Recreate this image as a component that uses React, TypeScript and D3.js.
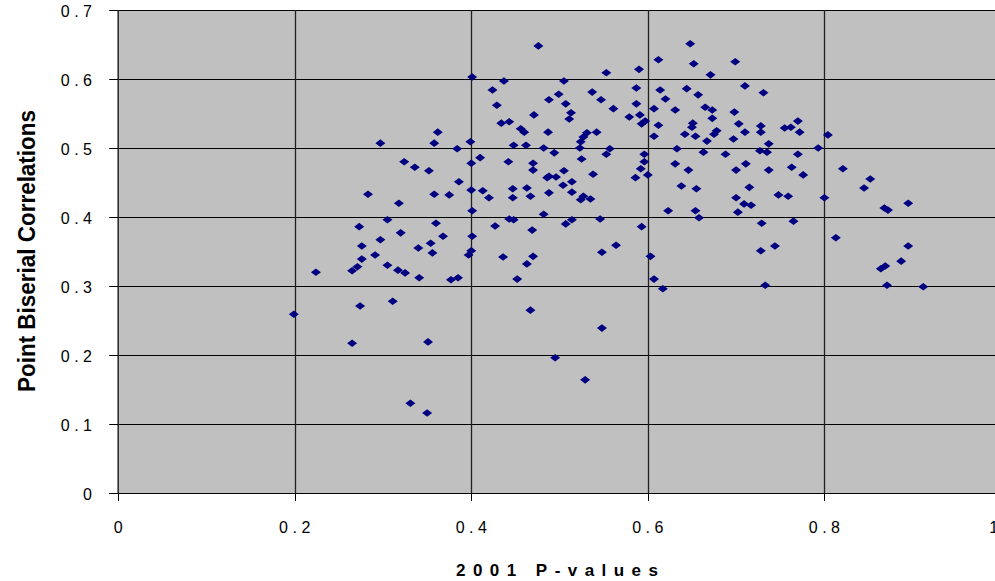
import React from "react";
import * as d3 from "d3";

const pValues = [
  0.297, 0.362, 0.358, 0.324, 0.336, 0.352, 0.476, 0.401, 0.437, 0.505,
  0.424, 0.499, 0.537, 0.553, 0.429, 0.488, 0.507, 0.547, 0.471, 0.513,
  0.511, 0.434, 0.443, 0.456, 0.460, 0.487, 0.399, 0.384, 0.448, 0.462,
  0.482, 0.494, 0.523, 0.524, 0.527, 0.531, 0.542, 0.525, 0.400, 0.410,
  0.442, 0.470, 0.470, 0.505, 0.538, 0.553, 0.648, 0.612, 0.590, 0.652,
  0.699, 0.671, 0.587, 0.614, 0.644, 0.657, 0.710, 0.731, 0.620, 0.587,
  0.561, 0.607, 0.631, 0.665, 0.673, 0.698, 0.579, 0.591, 0.673, 0.597,
  0.593, 0.612, 0.651, 0.650, 0.642, 0.654, 0.678, 0.675, 0.703, 0.710,
  0.728, 0.728, 0.607, 0.667, 0.697, 0.633, 0.557, 0.596, 0.663, 0.688,
  0.727, 0.596, 0.631, 0.711, 0.592, 0.646, 0.700, 0.600, 0.770, 0.755,
  0.762, 0.772, 0.804, 0.737, 0.793, 0.735, 0.770, 0.737, 0.763, 0.821,
  0.776, 0.283, 0.358, 0.318, 0.305, 0.360, 0.273, 0.320, 0.297, 0.368,
  0.276, 0.340, 0.354, 0.356, 0.291, 0.276, 0.305, 0.271, 0.265, 0.224,
  0.317, 0.325, 0.341, 0.311, 0.274, 0.488, 0.486, 0.496, 0.386, 0.400,
  0.375, 0.413, 0.420, 0.447, 0.463, 0.447, 0.467, 0.488, 0.504, 0.514,
  0.514, 0.527, 0.524, 0.535, 0.401, 0.448, 0.443, 0.482, 0.514, 0.507,
  0.546, 0.427, 0.469, 0.401, 0.400, 0.397, 0.436, 0.470, 0.463, 0.548,
  0.377, 0.385, 0.452, 0.586, 0.638, 0.655, 0.700, 0.709, 0.717, 0.715,
  0.623, 0.654, 0.658, 0.702, 0.593, 0.729, 0.564, 0.603, 0.728, 0.607,
  0.617, 0.733, 0.852, 0.845, 0.748, 0.759, 0.800, 0.868, 0.872, 0.895,
  0.765, 0.813, 0.744, 0.895, 0.887, 0.869, 0.864, 0.871, 0.912, 0.199,
  0.265, 0.351, 0.331, 0.350, 0.467, 0.548, 0.495, 0.529,
];

const correlations = [
  0.507, 0.523, 0.507, 0.480, 0.472, 0.467, 0.648, 0.603, 0.597, 0.597,
  0.584, 0.578, 0.581, 0.609, 0.562, 0.570, 0.564, 0.570, 0.548, 0.551,
  0.542, 0.536, 0.538, 0.528, 0.523, 0.523, 0.509, 0.499, 0.504, 0.504,
  0.500, 0.493, 0.500, 0.509, 0.516, 0.522, 0.523, 0.484, 0.478, 0.486,
  0.480, 0.478, 0.468, 0.467, 0.462, 0.491, 0.651, 0.628, 0.614, 0.622,
  0.625, 0.606, 0.587, 0.584, 0.586, 0.577, 0.590, 0.580, 0.571, 0.564,
  0.557, 0.557, 0.555, 0.559, 0.555, 0.552, 0.545, 0.548, 0.543, 0.539,
  0.535, 0.533, 0.536, 0.530, 0.520, 0.517, 0.525, 0.520, 0.535, 0.523,
  0.532, 0.523, 0.517, 0.510, 0.513, 0.499, 0.499, 0.491, 0.494, 0.491,
  0.496, 0.480, 0.477, 0.477, 0.470, 0.468, 0.468, 0.461, 0.539, 0.529,
  0.530, 0.523, 0.519, 0.506, 0.500, 0.494, 0.491, 0.468, 0.472, 0.470,
  0.461, 0.433, 0.433, 0.420, 0.396, 0.391, 0.386, 0.377, 0.367, 0.372,
  0.358, 0.355, 0.362, 0.348, 0.345, 0.339, 0.330, 0.328, 0.322, 0.320,
  0.323, 0.319, 0.312, 0.278, 0.271, 0.459, 0.457, 0.458, 0.451, 0.439,
  0.432, 0.438, 0.428, 0.441, 0.442, 0.428, 0.430, 0.435, 0.446, 0.451,
  0.436, 0.430, 0.425, 0.426, 0.409, 0.396, 0.397, 0.404, 0.396, 0.390,
  0.397, 0.387, 0.381, 0.372, 0.351, 0.345, 0.342, 0.343, 0.332, 0.349,
  0.309, 0.312, 0.310, 0.457, 0.445, 0.441, 0.428, 0.419, 0.417, 0.443,
  0.409, 0.409, 0.399, 0.407, 0.386, 0.391, 0.359, 0.343, 0.351, 0.310,
  0.296, 0.301, 0.455, 0.442, 0.432, 0.430, 0.428, 0.413, 0.410, 0.420,
  0.394, 0.370, 0.358, 0.358, 0.336, 0.329, 0.325, 0.301, 0.299, 0.259,
  0.217, 0.219, 0.130, 0.116, 0.265, 0.239, 0.196, 0.164,
];

const xTicks = [0, 0.2, 0.4, 0.6, 0.8, 1];
const xTickLabels = ["0", "0.2", "0.4", "0.6", "0.8", "1"];
const yTicks = [0, 0.1, 0.2, 0.3, 0.4, 0.5, 0.6, 0.7];
const yTickLabels = ["0", "0.1", "0.2", "0.3", "0.4", "0.5", "0.6", "0.7"];

const W = 995;
const H = 581;
const FONT = "'Liberation Sans', Arial, Helvetica, sans-serif";

export default function App() {
  const x = d3.scaleLinear().domain([0, 1]).range([118.2, 1000.9]);
  const y = d3.scaleLinear().domain([0, 0.7]).range([493, 10]);
  const points = pValues.map((p, i) => ({ p, c: correlations[i] }));
  const diamond = (cx: number, cy: number) =>
    `M${cx},${cy - 3.8}L${cx + 5},${cy}L${cx},${cy + 3.8}L${cx - 5},${cy}Z`;
  const left = x(0);
  const ls = 4.5;

  return (
    <svg
      width={W}
      height={H}
      style={{ position: "absolute", left: 0, top: 0, background: "#fff" }}
    >
      <rect x={left} y={y(0.7)} width={W - left} height={y(0) - y(0.7)} fill="#C0C0C0" />
      {yTicks.filter((t) => t > 0).map((t) => (
        <line key={"hg" + t} x1={left} x2={W} y1={Math.round(y(t)) + 0.5} y2={Math.round(y(t)) + 0.5} stroke="#000" strokeWidth={1} />
      ))}
      {xTicks.filter((t) => t > 0).map((t) => (
        <line key={"vg" + t} x1={Math.round(x(t)) + 0.5} x2={Math.round(x(t)) + 0.5} y1={y(0.7)} y2={y(0)} stroke="#202020" strokeWidth={1.3} />
      ))}
      <line x1={left} x2={left} y1={y(0.7)} y2={y(0)} stroke="#303030" strokeWidth={1.6} />
      <line x1={left - 9} x2={W} y1={Math.round(y(0)) + 0.5} y2={Math.round(y(0)) + 0.5} stroke="#000" strokeWidth={1.2} />
      {yTicks.map((t) => (
        <line key={"yt" + t} x1={left - 9} x2={left} y1={Math.round(y(t)) + 0.5} y2={Math.round(y(t)) + 0.5} stroke="#000" />
      ))}
      {xTicks.map((t) => (
        <line key={"xt" + t} x1={Math.round(x(t)) + 0.5} x2={Math.round(x(t)) + 0.5} y1={y(0)} y2={y(0) + 8} stroke="#000" />
      ))}
      {yTicks.map((t, i) => (
        <text
          key={"yl" + t}
          x={92 + ls}
          y={y(t) + 7}
          textAnchor="end"
          fontFamily={FONT}
          fontSize={16}
          letterSpacing={ls}
          fill="#000"
        >
          {yTickLabels[i]}
        </text>
      ))}
      {xTicks.map((t, i) => (
        <text
          key={"xl" + t}
          x={Math.min(x(t) + ls / 2, 996)}
          y={533}
          textAnchor="middle"
          fontFamily={FONT}
          fontSize={16}
          letterSpacing={ls}
          fill="#000"
        >
          {xTickLabels[i]}
        </text>
      ))}
      {points.map((d, i) => (
        <path key={i} d={diamond(x(d.p), y(d.c))} fill="#000080" />
      ))}
      <text
        x={456}
        y={576}
        fontFamily={FONT}
        fontSize={17}
        fontWeight="bold"
        textLength={202}
        lengthAdjust="spacing"
        fill="#000"
      >
        2001 P-values
      </text>
      <text
        transform={`translate(35,${251}) rotate(-90)`}
        textAnchor="middle"
        fontFamily={FONT}
        fontSize={23}
        fontWeight="bold"
        textLength={282}
        lengthAdjust="spacingAndGlyphs"
        fill="#000"
      >
        Point Biserial Correlations
      </text>
    </svg>
  );
}
